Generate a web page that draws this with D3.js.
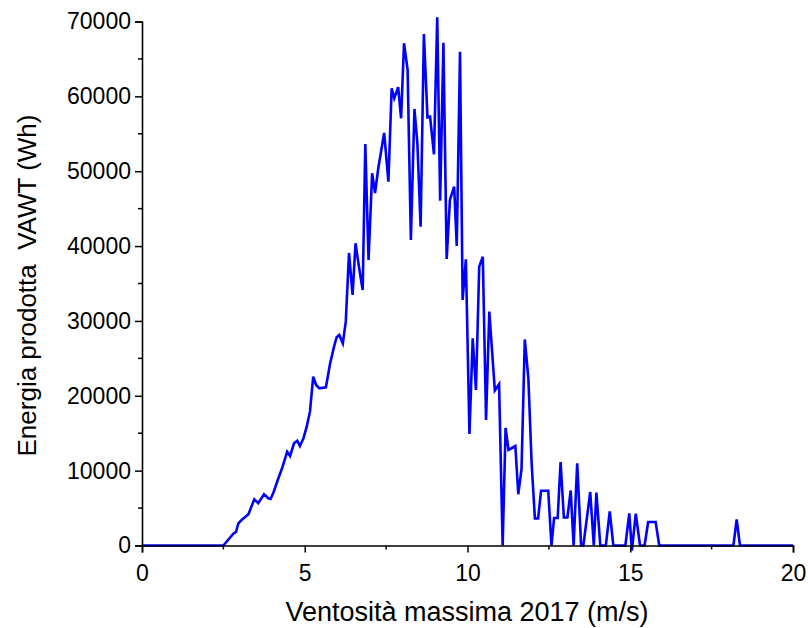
<!DOCTYPE html>
<html>
<head>
<meta charset="utf-8">
<script src="https://cdn.jsdelivr.net/npm/d3@7"></script>
<style>
  html, body { margin: 0; padding: 0; background: #fff; }
  svg text { font-family: "Liberation Sans", Arial, sans-serif; fill: #000; }
</style>
</head>
<body>
<svg id="chart" width="808" height="628"></svg>
<script>
// Wind speed (m/s) and energy produced by the VAWT (Wh)
const windSpeed = [
  0, 2.5, 2.8, 2.89, 2.96, 3.06, 3.27, 3.45, 3.57, 3.75, 3.88, 3.95, 4.03, 4.17, 4.32, 4.46,
  4.55, 4.67, 4.77, 4.85, 4.96, 5.06, 5.16, 5.26, 5.35, 5.45, 5.65, 5.78, 5.9, 5.98, 6.06,
  6.17, 6.26, 6.36, 6.47, 6.56, 6.68, 6.78, 6.86, 6.96, 7.07, 7.16, 7.26, 7.44, 7.57, 7.67,
  7.75, 7.87, 7.96, 8.05, 8.16, 8.26, 8.37, 8.46, 8.56, 8.66, 8.77, 8.85, 8.97, 9.07, 9.16,
  9.26, 9.36, 9.46, 9.59, 9.67, 9.77, 9.85, 9.95, 10.06, 10.16, 10.26, 10.36, 10.47, 10.57,
  10.67, 10.84, 10.97, 11.08, 11.17, 11.26, 11.47, 11.56, 11.66, 11.76, 11.87, 11.97, 12.07,
  12.17, 12.26, 12.48, 12.58, 12.66, 12.77, 12.86, 12.96, 13.07, 13.17, 13.26, 13.37, 13.49,
  13.56, 13.77, 13.88, 13.96, 14.08, 14.25, 14.37, 14.48, 14.85, 14.97, 15.05, 15.17, 15.3,
  15.44, 15.55, 15.78, 15.89, 18.17, 18.27, 18.37, 20
];
const energy = [
  0, 0, 1540, 1840, 2960, 3400, 4170, 6170, 5640, 6840, 6310, 6210, 6970, 8750, 10530, 12530,
  11960, 13650, 14000, 13290, 14320, 15870, 17880, 22550, 21440, 21000, 21140, 24340, 26560, 27820, 28120,
  27010, 29900, 39080, 33470, 40370, 36810, 34130, 53640, 38140, 49730, 47090, 50430, 55110, 48600, 61080,
  59750, 61220, 57070, 67090, 63530, 40810, 58320, 53730, 42590, 68330, 57200, 57290, 52260, 70570, 46070,
  67170, 38280, 46160, 47940, 40010, 65970, 32800, 38240, 14900, 27680, 20770, 37250, 38580, 16770,
  31240, 20710, 21550, 0, 15700, 12760, 13290, 6850, 10220, 27520, 22340, 10980, 3630,
  3630, 7320, 7320, 0, 3670, 3670, 11150, 3740, 3740, 7350, 0, 10980, 0,
  0, 7150, 0, 7080, 0, 0, 4570, 0, 0, 4300, -670, 4240, 0,
  0, 3140, 3140, 0, 0, 3500, 0, 0
];
const xMajorTicks = [0, 5, 10, 15, 20];
const xMinorTicks = [2.5, 7.5, 12.5, 17.5];
const yMajorTicks = [0, 10000, 20000, 30000, 40000, 50000, 60000, 70000];
const yMinorTicks = [5000, 15000, 25000, 35000, 45000, 55000, 65000];

const svg = d3.select("#chart");
const plotLeft = 142, plotRight = 793, plotTop = 21.5, plotBottom = 545.5;

const x = d3.scaleLinear().domain([0, 20]).range([plotLeft, plotRight]);
const y = d3.scaleLinear().domain([0, 70000]).range([plotBottom, plotTop]);

// Line
const points = windSpeed.map((v, i) => [v, energy[i]]);
svg.append("path")
  .datum(points)
  .attr("fill", "none")
  .attr("stroke", "#0000ff")
  .attr("stroke-width", 2.6)
  .attr("stroke-linejoin", "miter")
  .attr("stroke-miterlimit", 4)
  .attr("d", d3.line().x(d => x(d[0])).y(d => y(d[1])));

// X axis
const xAxis = svg.append("g").attr("transform", `translate(0,${plotBottom})`)
  .call(d3.axisBottom(x).tickValues(xMajorTicks).tickSize(7).tickPadding(12).tickFormat(d3.format("d")));
xAxis.append("g").selectAll("line").data(xMinorTicks).join("line")
  .attr("x1", d => x(d)).attr("x2", d => x(d)).attr("y1", 0).attr("y2", 4)
  .attr("stroke", "#000").attr("stroke-width", 1.5);

// Y axis
const yAxis = svg.append("g").attr("transform", `translate(${plotLeft},0)`)
  .call(d3.axisLeft(y).tickValues(yMajorTicks).tickSize(7).tickPadding(4).tickFormat(d3.format("d")));
yAxis.append("g").selectAll("line").data(yMinorTicks).join("line")
  .attr("y1", d => y(d)).attr("y2", d => y(d)).attr("x1", 0).attr("x2", -4)
  .attr("stroke", "#000").attr("stroke-width", 1.5);

[xAxis, yAxis].forEach(g => {
  g.select(".domain").attr("stroke", "#000").attr("stroke-width", 1.6);
  g.selectAll(".tick line").attr("stroke", "#000").attr("stroke-width", 1.5);
  g.selectAll(".tick text").attr("font-size", 23).attr("font-family", "Liberation Sans, Arial, sans-serif");
});

// Axis titles
svg.append("text")
  .attr("x", 467).attr("y", 621)
  .attr("text-anchor", "middle").attr("font-size", 27)
  .text("Ventosità massima 2017 (m/s)");

svg.append("text")
  .attr("transform", `translate(36,${(plotTop + plotBottom) / 2 + 2}) rotate(-90)`)
  .attr("text-anchor", "middle").attr("font-size", 26)
  .attr("xml:space", "preserve")
  .style("white-space", "pre")
  .text("Energia prodotta  VAWT (Wh)");
</script>
</body>
</html>
